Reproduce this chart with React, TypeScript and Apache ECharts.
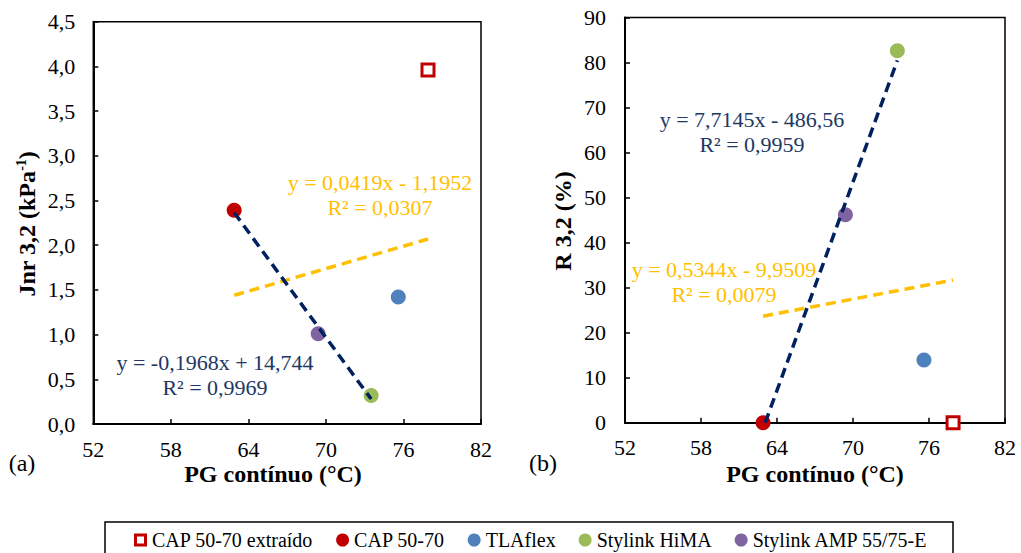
import React, { useEffect, useRef } from "react";
import * as echarts from "echarts";

// ---- data ----
const seriesNames = ["CAP 50-70 extraído", "CAP 50-70", "TLAflex", "Stylink HiMA", "Stylink AMP 55/75-E"];
const seriesColors = ["#C00000", "#C00000", "#4F81BD", "#9BBB59", "#8064A2"];
const pgContinuo = [77.9, 62.9, 75.6, 73.5, 69.4];
const jnr32 = [3.96, 2.39, 1.42, 0.32, 1.01];
const r32 = [0, 0, 13.9, 82.6, 46.2];

// trendline endpoints (as drawn)
const trendNavyA = [[62.9, 2.365], [73.5, 0.279]];
const trendYellowA = [[62.9, 1.44], [77.9, 2.069]];
const trendNavyB = [[63.07, 0], [73.5, 80.46]];
const trendYellowB = [[62.9, 23.66], [77.9, 31.68]];

const xTicks = [52, 58, 64, 70, 76, 82];
const yTicksA = ["0,0", "0,5", "1,0", "1,5", "2,0", "2,5", "3,0", "3,5", "4,0", "4,5"];
const yTicksB = ["0", "10", "20", "30", "40", "50", "60", "70", "80", "90"];

const eqNavyA = ["y = -0,1968x + 14,744", "R² = 0,9969"];
const eqYellowA = ["y = 0,0419x - 1,1952", "R² = 0,0307"];
const eqNavyB = ["y = 7,7145x - 486,56", "R² = 0,9959"];
const eqYellowB = ["y = 0,5344x - 9,9509", "R² = 0,0079"];

const FONT = "'Liberation Serif', 'Times New Roman', serif";
const NAVY = "#002060";
const NAVY_TEXT = "#203864";
const YELLOW = "#FFC000";
const SQUARE_RING_ICON = "path://M0,0H13V13H0Z M3,3V10H10V3Z";

function App() {
  const ref = useRef<HTMLDivElement>(null);
  useEffect(() => {
    if (!ref.current) return;
    const chart = echarts.init(ref.current, undefined, { renderer: "svg" });

    const xAxisBase = (gridIndex: number) => ({
      gridIndex,
      type: "value",
      min: xTicks[0],
      max: xTicks[xTicks.length - 1],
      interval: xTicks[1] - xTicks[0],
      axisLine: { show: true, onZero: false, lineStyle: { color: "#000", width: 2 } },
      axisTick: { show: true, inside: true, length: 5, lineStyle: { color: "#000", width: 1.5 } },
      axisLabel: { color: "#000", fontSize: 22, fontFamily: FONT, margin: 14 },
      splitLine: { show: false },
    });

    const squareStyle = { color: "#fff", borderColor: seriesColors[0], borderWidth: 3, opacity: 1 };

    const scatterSeries: any[] = [];
    [0, 1].forEach((gi) => {
      seriesNames.forEach((name, i) => {
        const isSquare = i === 0;
        scatterSeries.push({
          type: "scatter",
          name,
          xAxisIndex: gi,
          yAxisIndex: gi,
          symbol: isSquare ? "rect" : "circle",
          symbolSize: isSquare ? 12 : 15,
          itemStyle: isSquare ? squareStyle : { color: seriesColors[i], opacity: 1 },
          data: [[pgContinuo[i], gi === 0 ? jnr32[i] : r32[i]]],
          z: 3,
        });
      });
    });

    const trend = (data: number[][], color: string, gi: number) => ({
      type: "line",
      xAxisIndex: gi,
      yAxisIndex: gi,
      data,
      symbol: "none",
      showSymbol: false,
      silent: true,
      clip: true,
      lineStyle: { color, width: 3.5, type: [10, 6], cap: "butt" },
      z: 4,
    });

    const eqText = (lines: string[], cx: number, cy: number, color: string) =>
      lines.map((t, k) => ({
        type: "text",
        x: cx,
        y: cy + k * 25,
        style: {
          text: t,
          fill: color,
          font: `22px ${FONT}`,
          align: "center",
          verticalAlign: "middle",
        },
        z: 10,
      }));

    const plainText = (t: string, cx: number, cy: number, size: number, bold: boolean) => ({
      type: "text",
      x: cx,
      y: cy,
      style: {
        text: t,
        fill: "#000",
        font: `${bold ? "bold " : ""}${size}px ${FONT}`,
        align: "center",
        verticalAlign: "middle",
      },
      z: 10,
    });

    const option: any = {
      animation: false,
      backgroundColor: "#fff",
      textStyle: { fontFamily: FONT },
      grid: [
        { left: 93.3, top: 21.7, width: 387.7, height: 402.3, show: true, borderColor: "#000", borderWidth: 1.5 },
        { left: 625, top: 17.5, width: 380, height: 405.2, show: true, borderColor: "#000", borderWidth: 1.5 },
      ],
      xAxis: [xAxisBase(0), xAxisBase(1)],
      yAxis: [
        {
          gridIndex: 0,
          type: "value",
          min: 0,
          max: 4.5,
          interval: 0.5,
          axisLine: { show: true, onZero: false, lineStyle: { color: "#000", width: 2 } },
          axisTick: { show: true, inside: true, length: 5, lineStyle: { color: "#000", width: 1.5 } },
          axisLabel: {
            color: "#000",
            fontSize: 22,
            fontFamily: FONT,
            margin: 18,
            formatter: (v: number) => yTicksA[Math.round(v / 0.5)] ?? "",
          },
          splitLine: { show: false },
        },
        {
          gridIndex: 1,
          type: "value",
          min: 0,
          max: 90,
          interval: 10,
          axisLine: { show: true, onZero: false, lineStyle: { color: "#000", width: 2 } },
          axisTick: { show: true, inside: true, length: 5, lineStyle: { color: "#000", width: 1.5 } },
          axisLabel: {
            color: "#000",
            fontSize: 22,
            fontFamily: FONT,
            margin: 19,
            formatter: (v: number) => yTicksB[Math.round(v / 10)] ?? "",
          },
          splitLine: { show: false },
        },
      ],
      legend: {
        data: seriesNames.map((n, i) =>
          i === 0
            ? { name: n, icon: SQUARE_RING_ICON, itemStyle: { color: seriesColors[0], borderWidth: 0 } }
            : { name: n, icon: "circle" }
        ),
        left: 134,
        top: 530,
        padding: 0,
        itemWidth: 13,
        itemHeight: 13,
        itemGap: 23,
        textStyle: { color: "#000", fontSize: 20, fontFamily: FONT },
        selectedMode: false,
      },
      series: [
        ...scatterSeries,
        trend(trendYellowA, YELLOW, 0),
        trend(trendNavyA, NAVY, 0),
        trend(trendYellowB, YELLOW, 1),
        trend(trendNavyB, NAVY, 1),
      ],
      graphic: [
        {
          type: "rect",
          shape: { x: 105, y: 522, width: 848, height: 45 },
          style: { fill: "none", stroke: "#000", lineWidth: 1.5 },
          z: 1,
        },
        ...eqText(eqYellowA, 380, 182, YELLOW),
        ...eqText(eqNavyA, 215, 362, NAVY_TEXT),
        ...eqText(eqNavyB, 752, 119, NAVY_TEXT),
        ...eqText(eqYellowB, 724, 269, YELLOW),
        plainText("PG contínuo (°C)", 273, 474, 24, true),
        plainText("PG contínuo (°C)", 815, 474, 24, true),
        plainText("(a)", 22, 463, 24, false),
        plainText("(b)", 543, 463, 24, false),
        {
          type: "text",
          x: 27,
          y: 224,
          rotation: Math.PI / 2,
          style: {
            text: "Jnr 3,2 (kPa{sup|-1})",
            fill: "#000",
            font: `bold 24px ${FONT}`,
            align: "center",
            verticalAlign: "middle",
            rich: {
              sup: { fontSize: 14, fontWeight: "bold", fontFamily: FONT, verticalAlign: "top", lineHeight: 26 },
            },
          },
          z: 10,
        },
        {
          type: "text",
          x: 563,
          y: 221,
          rotation: Math.PI / 2,
          style: {
            text: "R 3,2 (%)",
            fill: "#000",
            font: `bold 24px ${FONT}`,
            align: "center",
            verticalAlign: "middle",
          },
          z: 10,
        },
      ],
    };

    chart.setOption(option);
    return () => chart.dispose();
  }, []);

  return (
    <div
      ref={ref}
      style={{ position: "fixed", left: 0, top: 0, width: 1021, height: 553, background: "#fff" }}
    />
  );
}

export default App;
